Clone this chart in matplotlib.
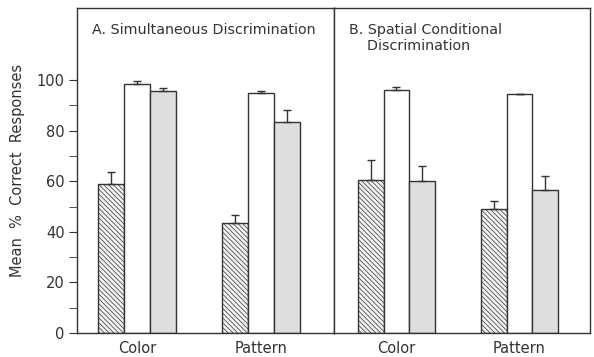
import matplotlib
matplotlib.use("Agg")
from matplotlib import pyplot as plt
import numpy as np

groups = ["Color", "Pattern"]

# panel A: Simultaneous Discrimination
a_hatched = [59, 43.5]
a_hatched_err = [4.5, 3]
a_white = [98.5, 95]
a_white_err = [1, 0.7]
a_gray = [95.5, 83.5]
a_gray_err = [1.2, 4.5]

# panel B: Spatial Conditional Discrimination
b_hatched = [60.5, 49]
b_hatched_err = [8, 3]
b_white = [96, 94.5]
b_white_err = [1.2, 0]
b_gray = [60, 56.5]
b_gray_err = [6, 5.5]

plt.rcParams["font.family"] = "DejaVu Sans"
plt.rcParams["hatch.linewidth"] = 0.5
plt.rcParams["hatch.color"] = "#666666"

ink = "#333333"


def draw_panel(ax, hatched, hatched_err, white, white_err, gray, gray_err, xlim):
    x = np.arange(len(groups))
    w = 0.21
    kw = dict(width=w, edgecolor=ink, linewidth=1.0, capsize=3,
              error_kw=dict(ecolor=ink, elinewidth=1.0, capthick=1.0))
    ax.bar(x - w, hatched, color="#f2f2f2", hatch="\\\\\\\\\\\\\\",
           yerr=[np.zeros(2), hatched_err], **kw)
    ax.bar(x, white, color="white",
           yerr=[np.zeros(2), white_err], **kw)
    ax.bar(x + w, gray, color="#dedede",
           yerr=[np.zeros(2), gray_err], **kw)
    ax.set_xlim(*xlim)
    ax.set_ylim(0, 128.5)
    ax.set_xticks(x)
    ax.set_xticklabels(groups, fontsize=10.5, color=ink)
    ax.tick_params(axis="x", length=0, pad=6)
    for s in ax.spines.values():
        s.set_color(ink)
        s.set_linewidth(1.0)


fig = plt.figure(figsize=(5.94, 3.57), dpi=100)
bottom = 24 / 357
height = (333 - 8) / 357
ax1 = fig.add_axes([77 / 594, bottom, (334 - 77) / 594, height])
ax2 = fig.add_axes([334 / 594, bottom, (590 - 334) / 594, height])

draw_panel(ax1, a_hatched, a_hatched_err, a_white, a_white_err,
           a_gray, a_gray_err, (-0.484, 1.589))
draw_panel(ax2, b_hatched, b_hatched_err, b_white, b_white_err,
           b_gray, b_gray_err, (-0.508, 1.573))

ax1.set_yticks([0, 20, 40, 60, 80, 100])
ax1.set_yticks([10, 30, 50, 70, 90], minor=True)
ax1.tick_params(axis="y", which="major", length=6, labelsize=10.5,
                colors=ink, pad=3)
ax1.tick_params(axis="y", which="minor", length=6, colors=ink)
ax1.set_ylabel("Mean  %  Correct  Responses", fontsize=10.5, color=ink,
               labelpad=8)
ax2.set_yticks([])

ax1.text(0.06, 0.955, "A. Simultaneous Discrimination", transform=ax1.transAxes,
         fontsize=10.3, color=ink, va="top", ha="left")
ax2.text(0.06, 0.955, "B. Spatial Conditional\n    Discrimination",
         transform=ax2.transAxes, fontsize=10.3, color=ink, va="top", ha="left",
         linespacing=1.25)

fig.savefig("out.png", dpi=100)
